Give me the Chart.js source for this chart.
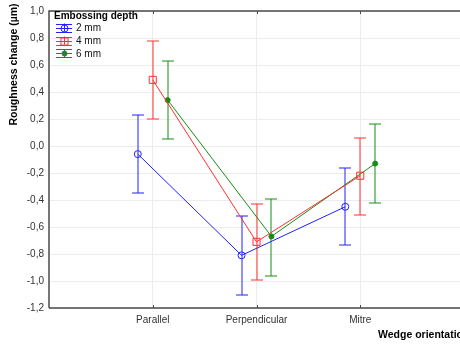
<!DOCTYPE html>
<html>
<head>
<meta charset="utf-8">
<script src="https://cdn.jsdelivr.net/npm/chart.js@4.4.1/dist/chart.umd.min.js"></script>
<style>
  html, body { margin: 0; padding: 0; overflow: hidden; background: #fff; }
  #wrap { width: 470px; height: 344px; position: relative; }
</style>
</head>
<body>
<div id="wrap"><canvas id="chart"></canvas></div>
<script>
var categories = ["Parallel", "Perpendicular", "Mitre"];
var seriesNames = ["2 mm", "4 mm", "6 mm"];
var legendTitle = "Embossing depth";
var yTitle = "Roughness change (\u00b5m)";
var xTitle = "Wedge orientation";

// means with lower / upper limits of the bars
var mean2 = [-0.06, -0.81, -0.45];
var low2  = [-0.35, -1.10, -0.73];
var high2 = [0.23, -0.52, -0.16];

var mean4 = [0.49, -0.71, -0.22];
var low4  = [0.20, -0.99, -0.51];
var high4 = [0.78, -0.43, 0.06];

var mean6 = [0.34, -0.67, -0.13];
var low6  = [0.05, -0.96, -0.42];
var high6 = [0.63, -0.39, 0.16];

var yTicks = [-1.2, -1.0, -0.8, -0.6, -0.4, -0.2, 0.0, 0.2, 0.4, 0.6, 0.8, 1.0];

var FONT = "'Liberation Sans', Arial, sans-serif";
var colors = ["#2020ff", "#ff3030", "#168c16"];
var shift = [-0.144, 0, 0.144];
var means = [mean2, mean4, mean6];
var lows = [low2, low4, low6];
var highs = [high2, high4, high6];

function pts(m, k) {
  return m.map(function (v, i) { return { x: i + 1 + shift[k], y: v }; });
}

var markers = [
  { style: "circle", r: 3.5, fill: "rgba(0,0,0,0)" },
  { style: "rect", r: 5, fill: "rgba(0,0,0,0)" },
  { style: "circle", r: 2.5, fill: colors[2] }
];

var datasets = seriesNames.map(function (name, k) {
  return {
    label: name,
    data: pts(means[k], k),
    borderColor: colors[k],
    borderWidth: 1,
    showLine: true,
    tension: 0,
    pointStyle: markers[k].style,
    pointRadius: markers[k].r,
    pointBorderWidth: 1,
    pointBorderColor: colors[k],
    pointBackgroundColor: markers[k].fill
  };
});

function drawMarker(ctx, k, x, y) {
  Chart.helpers.drawPoint(ctx, {
    pointStyle: markers[k].style, radius: markers[k].r, borderWidth: 1, rotation: 0
  }, x, y);
}

var extras = {
  id: "extras",
  beforeDatasetsDraw: function (chart) {
    var ctx = chart.ctx, xs = chart.scales.x, ys = chart.scales.y;
    ctx.save();
    ctx.lineWidth = 1;
    for (var k = 0; k < 3; k++) {
      ctx.strokeStyle = colors[k];
      for (var i = 0; i < categories.length; i++) {
        // bars sit on whole pixels so they come out soft, two pixels wide
        var px = Math.round(xs.getPixelForValue(i + 1 + shift[k]));
        var y1 = Math.round(ys.getPixelForValue(highs[k][i]));
        var y2 = Math.round(ys.getPixelForValue(lows[k][i]));
        ctx.beginPath();
        ctx.moveTo(px, y1); ctx.lineTo(px, y2);
        ctx.moveTo(px - 6, y1); ctx.lineTo(px + 6, y1);
        ctx.moveTo(px - 6, y2); ctx.lineTo(px + 6, y2);
        ctx.stroke();
      }
    }
    ctx.restore();
  },
  afterDraw: function (chart) {
    var ctx = chart.ctx, a = chart.chartArea, xs = chart.scales.x;
    ctx.save();
    // frame
    ctx.strokeStyle = "#4a4a4a";
    ctx.lineWidth = 1.5;
    ctx.beginPath();
    ctx.moveTo(a.left, a.bottom); ctx.lineTo(a.left, a.top); ctx.lineTo(a.right, a.top);
    ctx.moveTo(a.left, a.bottom); ctx.lineTo(a.right, a.bottom);
    ctx.stroke();
    // inward tick marks at categories
    ctx.lineWidth = 1;
    ctx.beginPath();
    for (var i = 1; i <= categories.length; i++) {
      var px = Math.round(xs.getPixelForValue(i)) + 0.5;
      ctx.moveTo(px, a.bottom); ctx.lineTo(px, a.bottom - 3);
      ctx.moveTo(px, a.top); ctx.lineTo(px, a.top + 3);
    }
    ctx.stroke();

    // axis titles
    ctx.fillStyle = "#000";
    ctx.font = "bold 10.5px " + FONT;
    ctx.textBaseline = "middle";
    ctx.save();
    ctx.translate(14, 64.5);
    ctx.rotate(-Math.PI / 2);
    ctx.textAlign = "center";
    ctx.fillText(yTitle, 0, 0);
    ctx.restore();
    ctx.textAlign = "left";
    ctx.fillText(xTitle, 378, 335);

    // legend
    ctx.font = "bold 10px " + FONT;
    ctx.fillText(legendTitle, 54, 16);
    ctx.font = "10px " + FONT;
    var rows = [27.5, 40.5, 53.3];
    for (var k = 0; k < 3; k++) {
      var y = rows[k];
      ctx.strokeStyle = colors[k];
      ctx.lineWidth = 1;
      ctx.beginPath();
      ctx.moveTo(56, Math.round(y) + 0.5); ctx.lineTo(72, Math.round(y) + 0.5);
      ctx.moveTo(56, Math.round(y - 4) + 0.5); ctx.lineTo(72, Math.round(y - 4) + 0.5);
      ctx.moveTo(56, Math.round(y + 4) + 0.5); ctx.lineTo(72, Math.round(y + 4) + 0.5);
      ctx.moveTo(64.5, y - 4); ctx.lineTo(64.5, y + 4);
      ctx.stroke();
      ctx.fillStyle = markers[k].fill;
      drawMarker(ctx, k, 64.5, Math.round(y) + 0.5);
      ctx.fillStyle = "#111";
      ctx.fillText(seriesNames[k], 76, y + 0.5);
    }
    ctx.restore();
  }
};

new Chart(document.getElementById("chart"), {
  type: "scatter",
  data: { datasets: datasets },
  options: {
    responsive: true,
    maintainAspectRatio: false,
    animation: false,
    events: [],
    layout: { padding: { top: 6, right: 4, left: 0, bottom: 0 } },
    plugins: { legend: { display: false }, tooltip: { enabled: false } },
    scales: {
      x: {
        type: "linear",
        min: 0, max: 4,
        afterFit: function (s) { s.height = 36; },
        afterBuildTicks: function (s) {
          s.ticks = [0, 1, 2, 3, 4].map(function (v) { return { value: v }; });
        },
        border: { display: false },
        grid: {
          drawTicks: false,
          color: function (c) { return (c.tick && c.tick.value > 0 && c.tick.value < 4) ? "#ececec" : "rgba(0,0,0,0)"; },
          lineWidth: 1
        },
        ticks: {
          padding: 6,
          maxRotation: 0,
          autoSkip: false,
          color: "#333",
          font: { family: FONT, size: 10 },
          callback: function (v) { return categories[v - 1] || ""; }
        }
      },
      y: {
        min: -1.2, max: 1.0,
        afterFit: function (s) { s.width = 49; },
        afterBuildTicks: function (s) {
          s.ticks = yTicks.map(function (v) { return { value: v }; });
        },
        border: { display: false },
        grid: { drawTicks: false, color: "#ececec", lineWidth: 1 },
        ticks: {
          padding: 5,
          color: "#333",
          font: { family: FONT, size: 10 },
          callback: function (v) {
            if (Math.abs(v) < 1e-9) v = 0;
            return v.toFixed(1).replace(".", ",");
          }
        }
      }
    }
  },
  plugins: [extras]
});
</script>
</body>
</html>
